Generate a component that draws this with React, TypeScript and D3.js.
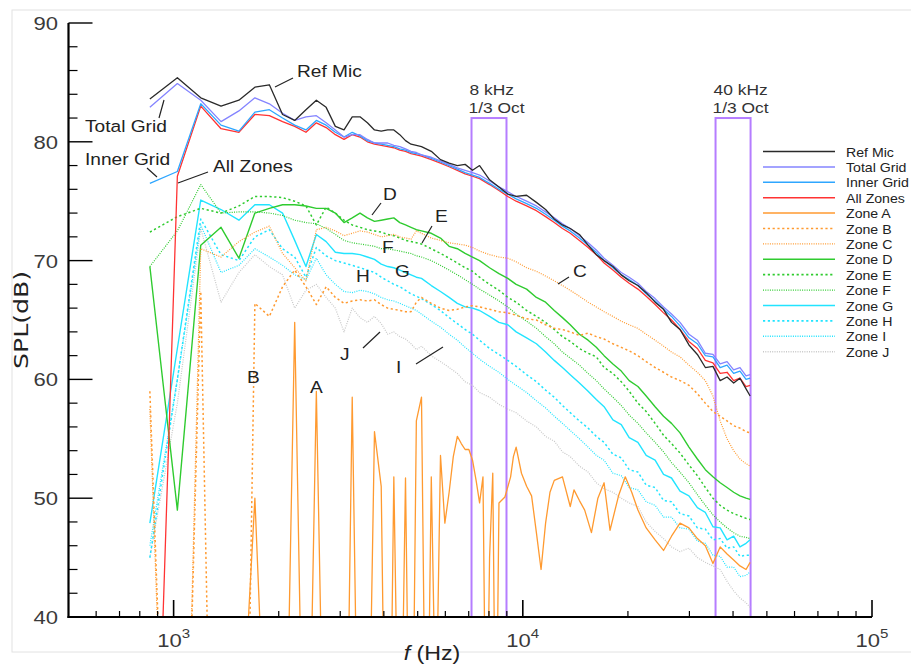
import React from "react";
import * as d3 from "d3";

// Shared frequency grid (Hz)
const freqs = [
  855, 1025, 1196, 1367, 1538, 1709, 1880, 2051, 2222, 2393, 2563, 2734, 2905, 3076, 3247, 3418,
  3589, 3760, 3931, 4102, 4272, 4443, 4614, 4785, 4956, 5127,
  5469, 5811, 6152, 6494, 6836, 7178, 7520, 8032, 8545, 9058, 9570, 10254, 10938, 11621, 12305,
  12988, 13672, 14526, 15381, 16235, 17090, 18115, 19141, 20166, 21362, 22559, 23926, 25293,
  26660, 28198, 29907, 31616, 33325, 35034, 36743, 38452, 40161, 41870, 43579, 44775,
];

const refMic = [
  83.6, 85.4, 83.7, 83.0, 83.5, 84.6, 84.8, 82.3, 81.8, 82.7, 83.5, 82.9, 81.3, 81.0, 82.1, 82.1,
  81.6, 81.0, 80.9, 81.0, 81.0, 80.6, 80.1, 79.8, 79.7, 79.6,
  79.2, 78.5, 78.2, 78.0, 78.1, 77.6, 78.0, 76.8, 76.2, 75.6, 75.4, 75.5, 74.9, 74.3, 73.5,
  73.0, 72.7, 72.2, 71.3, 70.5, 70.0, 69.5, 68.8, 68.3, 67.9, 67.3, 66.5, 65.9,
  64.8, 64.2, 62.9, 62.1, 61.0, 61.1, 59.9, 60.2, 59.7, 60.1, 59.2, 58.6,
];
const totalGrid = [
  82.9, 84.9, 83.5, 81.7, 82.6, 83.7, 83.2, 82.4, 81.8, 82.1, 82.2, 81.6, 81.0, 80.4, 80.6, 80.6,
  80.2, 79.9, 79.9, 79.9, 79.7, 79.6, 79.4, 79.2, 79.1, 78.9,
  78.7, 78.4, 78.1, 77.8, 77.6, 77.4, 77.2, 76.7, 76.2, 75.8, 75.4, 75.0, 74.6, 74.1, 73.6,
  73.1, 72.7, 72.1, 71.5, 70.9, 70.2, 69.6, 69.0, 68.6, 68.1, 67.4, 66.8, 66.1,
  65.5, 64.8, 63.8, 63.3, 62.2, 62.1, 61.3, 61.5, 60.8, 61.0, 60.3, 60.4,
];
const innerGrid = [
  76.5, 77.5, 83.2, 81.4, 80.9, 82.5, 82.7, 82.0, 81.4, 81.0, 81.8, 81.4, 80.8, 80.4, 80.8, 80.5,
  80.1, 79.9, 79.8, 79.7, 79.6, 79.4, 79.3, 79.1, 79.0, 78.9,
  78.6, 78.3, 78.0, 77.7, 77.4, 77.2, 77.0, 76.5, 76.0, 75.6, 75.2, 74.8, 74.4, 73.9, 73.4,
  72.9, 72.5, 71.9, 71.3, 70.7, 70.0, 69.4, 68.8, 68.4, 67.9, 67.2, 66.6, 65.9,
  65.3, 64.5, 63.5, 63.0, 62.0, 61.9, 61.0, 61.2, 60.5, 60.7, 60.0, 60.1,
];
const allZones = [
  6.0, 77.1, 83.0, 81.1, 80.8, 82.3, 82.2, 81.7, 81.3, 80.8, 81.6, 81.2, 80.6, 80.2, 80.6, 80.4,
  80.0, 79.8, 79.7, 79.6, 79.5, 79.3, 79.2, 79.0, 78.9, 78.8,
  78.5, 78.2, 77.9, 77.6, 77.3, 77.1, 76.9, 76.4, 75.9, 75.4, 75.0, 74.6, 74.2, 73.7, 73.2,
  72.7, 72.3, 71.7, 71.1, 70.5, 69.8, 69.2, 68.6, 68.1, 67.6, 67.0, 66.3, 65.6,
  65.0, 64.2, 63.2, 62.6, 61.6, 61.4, 60.5, 60.6, 59.9, 60.1, 59.4, 59.5,
];
const zoneB = [
  59.0, -6, 67.4, -20, -20, 66.4, 65.3, 67.8, 69.2, 67.8, 66.3, 67.8, 66.9, 66.4, 66.6, 66.7,
  66.6, 66.7, 66.3, 66.0, 65.9, 65.8, 65.7, 65.7, 66.5, 66.9,
  66.4, 66.0, 65.8, 65.9, 66.1, 66.2, 66.1, 65.9, 65.7, 65.6, 65.4, 65.1, 65.0, 64.6, 64.3,
  64.2, 64.0, 63.7, 63.9, 63.6, 63.4, 63.0, 62.7, 62.4, 62.0, 61.5, 61.0, 60.6,
  60.2, 59.9, 59.5, 58.8, 58.0, 57.3, 56.9, 56.5, 56.1, 55.9, 55.6, 55.5,
];
const zoneC = [
  57.5, -8, 71.0, 70.3, 71.6, 72.4, 72.9, 70.6, 69.4, 68.3, 72.6, 72.8, 72.5, 72.1, 72.3, 72.5,
  72.4, 72.2, 72.0, 72.1, 72.2, 72.0, 71.9, 71.8, 72.5, 72.3,
  71.9, 71.7, 71.5, 71.4, 71.3, 71.1, 70.8, 70.5, 70.3, 70.2, 69.9, 69.4, 69.1, 68.7, 68.3,
  67.9, 67.5, 67.0, 66.5, 66.1, 65.7, 65.3, 64.9, 64.6, 64.3, 63.8, 63.3, 62.8,
  62.3, 61.9, 61.2, 60.6, 59.9, 58.6, 56.5, 55.0, 54.0, 53.3, 52.9, 52.7,
];
const zoneD = [
  69.5, 49.0, 71.3, 72.8, 70.2, 74.0, 74.4, 74.7, 74.7, 74.6, 74.4, 74.4, 74.0, 73.2, 73.6, 74.0,
  73.6, 73.3, 73.4, 73.5, 73.6, 73.2, 73.0, 72.8, 72.6, 72.5,
  72.3, 71.9, 71.2, 71.0, 70.6, 70.3, 70.0, 69.4, 68.9, 68.5, 68.0, 67.6, 66.9, 66.5, 65.8,
  65.2, 64.6, 63.8, 63.3, 62.7, 62.0, 61.3, 60.7, 59.9, 59.4, 58.6, 57.7, 56.9,
  56.3, 55.5, 54.3, 53.3, 52.4, 51.8, 51.3, 50.9, 50.5, 50.2, 50.0, 49.9,
];
const zoneE = [
  72.4, 73.7, 74.4, 74.0, 74.6, 75.4, 75.4, 75.3, 75.0, 74.6, 73.0, 74.5, 74.0, 73.4, 73.0, 72.8,
  72.6, 72.5, 72.4, 72.2, 72.1, 71.9, 71.7, 71.6, 71.5, 71.4,
  71.0, 70.6, 70.2, 69.8, 69.4, 69.1, 68.6, 68.0, 67.5, 66.9, 66.5, 65.8, 65.3, 64.8, 64.2,
  63.6, 63.2, 62.6, 62.2, 61.9, 61.0, 60.5, 59.8, 59.0, 58.0, 57.3, 56.3, 55.3,
  54.6, 53.8, 52.8, 51.9, 50.9, 50.0, 49.4, 49.0, 48.7, 48.5, 48.3, 48.2,
];
const zoneF = [
  69.5, 72.5, 76.4, 74.0, 74.1, 74.1, 74.0, 73.8, 73.4, 73.2, 73.1, 72.7, 72.2, 71.7, 71.5, 71.4,
  71.3, 71.2, 71.0, 71.0, 70.9, 70.8, 70.7, 70.6, 70.4, 70.3,
  70.0, 69.6, 69.2, 68.8, 68.4, 68.0, 67.6, 67.1, 66.6, 66.1, 65.5, 64.9, 64.3, 63.6, 63.0,
  62.3, 61.8, 61.2, 60.5, 59.9, 59.2, 58.5, 57.8, 57.0, 56.3, 55.5, 54.7, 53.9,
  53.0, 52.2, 51.3, 50.3, 49.4, 48.6, 48.0, 47.5, 47.1, 46.8, 46.7, 46.6,
];
const zoneG = [
  47.9, 62.6, 75.1, 74.3, 73.4, 74.7, 74.7, 74.0, 71.7, 69.5, 72.2, 71.6, 70.7, 70.6, 70.6, 70.5,
  70.3, 70.1, 69.7, 69.5, 69.4, 69.2, 69.0, 68.8, 68.6, 68.5,
  67.9, 67.4, 66.9, 66.4, 66.1, 66.0, 65.8, 65.3, 64.8, 64.6, 64.0, 63.5, 63.0, 62.3, 61.6,
  61.0, 60.4, 59.7, 59.0, 58.3, 57.7, 56.6, 56.2, 55.1, 54.7, 53.6, 53.2, 52.0,
  51.7, 50.6, 50.2, 49.2, 48.8, 47.6, 47.5, 46.5, 46.8, 45.9, 46.2, 46.5,
];
const zoneH = [
  45.0, 60.0, 73.5, 70.5, 70.0, 72.0, 72.6, 71.0, 70.3, 68.6, 71.1, 70.4, 70.0, 69.8, 69.6, 69.4,
  69.2, 69.0, 68.6, 68.3, 68.0, 67.8, 67.5, 67.2, 67.0, 66.8,
  66.3, 65.8, 65.2, 64.7, 64.2, 63.8, 63.3, 62.6, 62.1, 61.6, 61.1, 60.4, 59.8, 59.1, 58.5,
  57.8, 57.2, 56.5, 55.9, 55.2, 54.7, 53.7, 53.4, 52.4, 52.2, 51.1, 50.9, 49.8,
  49.7, 48.7, 48.5, 47.5, 47.4, 46.5, 46.6, 45.8, 45.9, 45.1, 45.2, 45.2,
];
const zoneI = [
  46.0, 60.0, 73.0, 69.0, 69.6, 71.0, 70.3, 69.6, 68.8, 68.4, 70.2, 68.8, 68.0, 67.4, 67.3, 67.5,
  67.4, 67.2, 66.9, 66.7, 66.6, 66.4, 66.2, 66.0, 65.8, 65.5,
  64.9, 64.4, 63.8, 63.3, 62.7, 62.2, 61.7, 61.1, 60.6, 60.0, 59.5, 58.9, 58.2, 57.6, 56.9,
  56.3, 55.7, 55.0, 54.3, 53.6, 53.2, 52.1, 51.9, 50.9, 50.7, 49.7, 49.4, 48.4,
  48.4, 47.5, 47.4, 46.4, 46.2, 45.2, 45.1, 44.2, 44.2, 43.4, 43.5, 43.8,
];
const zoneJ = [
  45.0, 58.0, 72.7, 66.5, 69.0, 70.5, 69.5, 68.8, 66.0, 67.5, 68.0, 66.9, 66.0, 64.0, 66.0, 65.2,
  64.8, 65.3, 64.7, 63.8, 64.0, 63.6, 63.4, 63.0, 62.5, 62.8,
  62.0, 61.5, 61.0, 60.5, 59.8, 59.5, 58.9, 58.5, 57.9, 57.5, 57.2, 56.5, 56.0, 55.2, 54.8,
  53.9, 53.5, 52.7, 52.2, 51.3, 50.8, 50.5, 50.0, 49.6, 49.3, 48.0, 47.2, 46.6,
  45.9, 45.5, 45.8, 45.0, 44.6, 44.3, 44.0, 43.0, 42.2, 41.6, 41.2, 40.8,
];

// Zone A has its own, denser frequency list
const zoneAFreqs = [
  855, 1025, 1196, 1367, 1538, 1709, 1880, 2051, 2222, 2393, 2563, 2734, 2905, 3076, 3247, 3418,
  3589, 3760, 3931, 4102, 4272, 4443, 4614, 4785, 4956, 5127, 5298, 5469, 5640, 5811, 5981, 6152,
  6323, 6494, 6665, 6836, 7007, 7178, 7349, 7520, 7690, 7861, 8032, 8203, 8374, 8545, 8887, 9228,
  9399, 9570, 9912, 10254, 10596, 10937, 11279, 11621, 11963, 12305, 12988, 13672, 14014, 14526,
  15039, 15723, 16406, 17090, 17773, 18799, 19653, 20508, 21362, 22559, 23926, 25293, 26660,
  28198, 29907, 31616, 33325, 35034, 36743, 38452, 40161, 41870, 43579, 44775,
];
const zoneA = [
  20, 25, 30, 20, 25, 50.0, 20, 10, 64.8, 12, 59.0, 15, 20, 10, 58.5, 15,
  20, 55.6, 51.0, 10, 51.8, 20, 51.7, 15, 56.5, 58.5, 20, 51.8, 30, 53.6, 47.9, 50.5,
  53.5, 55.2, 54.6, 54.1, 54.1, 53.2, 51.5, 49.6, 51.8, 25, 45, 52.1, 25, 49.6, 50.1, 51.8,
  53.5, 54.3, 52.1, 51.0, 50.2, 47.1, 44.0, 47.9, 50.5, 51.5, 51.8, 49.3, 50.7, 49.8,
  49.0, 47.1, 50.0, 51.3, 47.3, 50.2, 51.8, 50.5, 49.0, 47.5, 46.5, 45.6, 46.8,
  47.9, 47.5, 46.6, 46.0, 44.5, 45.9, 45.3, 44.8, 44.3, 44.0, 44.6,
];

const seriesNames = [
  "Ref Mic", "Total Grid", "Inner Grid", "All Zones", "Zone A", "Zone B", "Zone C",
  "Zone D", "Zone E", "Zone F", "Zone G", "Zone H", "Zone I", "Zone J",
];

const bandLow = [7130, 35640];
const bandHigh = [8980, 44900];
const bandTop = 82;
const bandLabels = ["8 kHz", "40 kHz"];

const yMajor = [40, 50, 60, 70, 80, 90];
const yMinor = [42, 44, 46, 48, 52, 54, 56, 58, 62, 64, 66, 68, 72, 74, 76, 78, 82, 84, 86, 88];
const xMajor = [1000, 10000, 100000];
const xMinor = [600, 700, 800, 900, 2000, 3000, 4000, 5000, 6000, 7000, 8000, 9000,
  20000, 30000, 40000, 50000, 60000, 70000, 80000, 90000];
const xExp = ["3", "4", "5"];

const ORANGE = "#ff9a30";
const GREEN = "#2fcb2f";
const CYAN = "#22e4ff";
const COARSE = "2.2 2.6";
const FINE = "1 1.3";

const styles: Record<string, { color: string; dash?: string; w?: number }> = {
  "Ref Mic": { color: "#2a2a2a", w: 1.3 },
  "Total Grid": { color: "#8484ff", w: 1.3 },
  "Inner Grid": { color: "#2ea6ff", w: 1.3 },
  "All Zones": { color: "#ff3333", w: 1.3 },
  "Zone A": { color: ORANGE, w: 1.3 },
  "Zone B": { color: ORANGE, dash: COARSE, w: 1.5 },
  "Zone C": { color: ORANGE, dash: FINE, w: 1.2 },
  "Zone D": { color: GREEN, w: 1.4 },
  "Zone E": { color: GREEN, dash: COARSE, w: 1.5 },
  "Zone F": { color: GREEN, dash: FINE, w: 1.2 },
  "Zone G": { color: CYAN, w: 1.4 },
  "Zone H": { color: CYAN, dash: COARSE, w: 1.5 },
  "Zone I": { color: CYAN, dash: FINE, w: 1.2 },
  "Zone J": { color: "#c8c8c8", dash: FINE, w: 1.2 },
};

const seriesData: Record<string, [number[], number[]]> = {
  "Ref Mic": [freqs, refMic],
  "Total Grid": [freqs, totalGrid],
  "Inner Grid": [freqs, innerGrid],
  "All Zones": [freqs, allZones],
  "Zone A": [zoneAFreqs, zoneA],
  "Zone B": [freqs, zoneB],
  "Zone C": [freqs, zoneC],
  "Zone D": [freqs, zoneD],
  "Zone E": [freqs, zoneE],
  "Zone F": [freqs, zoneF],
  "Zone G": [freqs, zoneG],
  "Zone H": [freqs, zoneH],
  "Zone I": [freqs, zoneI],
  "Zone J": [freqs, zoneJ],
};

const FONT = "'Liberation Sans', Arial, sans-serif";

// horizontally stretched text, like the reference's wide lettering
function T(props: {
  x: number; y: number; size: number; s?: number; anchor?: string; fill?: string; children: React.ReactNode;
}) {
  const s = props.s ?? 1.16;
  return (
    <text
      transform={`translate(${props.x},${props.y}) scale(${s},1)`}
      fontSize={props.size}
      textAnchor={props.anchor || "start"}
      fill={props.fill || "#222"}
    >
      {props.children}
    </text>
  );
}

export default function App() {
  const W = 911;
  const H = 665;
  const x = d3.scaleLog().domain([500, 100000]).range([68.5, 872]);
  const y = d3.scaleLinear().domain([40, 90]).range([617, 23]);
  const line = d3
    .line<[number, number]>()
    .x((d) => x(d[0]))
    .y((d) => y(d[1]));

  const drawOrder = [...seriesNames].reverse();
  const axisX = x(500);
  const axisY = y(40);

  const annot = [
    { t: "Ref Mic", x: 297, y: 77, l: [275, 87, 293, 78] },
    { t: "Total Grid", x: 85, y: 132, l: [164, 100, 159, 118] },
    { t: "Inner Grid", x: 85, y: 165, l: [147, 168, 157, 177] },
    { t: "All Zones", x: 213, y: 172, l: [178, 183, 208, 172] },
    { t: "D", x: 383, y: 200, l: [372, 215, 381, 203] },
    { t: "E", x: 435, y: 222, l: [422, 243, 432, 226] },
    { t: "F", x: 382, y: 253 },
    { t: "G", x: 395, y: 277 },
    { t: "H", x: 356, y: 282 },
    { t: "J", x: 340, y: 360, l: [363, 348, 380, 332] },
    { t: "I", x: 396, y: 373, l: [416, 364, 443, 347] },
    { t: "B", x: 247, y: 383 },
    { t: "A", x: 310, y: 393 },
    { t: "C", x: 573, y: 277, l: [558, 284, 569, 277] },
  ];

  return (
    <svg
      width={W}
      height={H}
      viewBox={`0 0 ${W} ${H}`}
      style={{ position: "absolute", left: 0, top: 0, background: "#fff" }}
      fontFamily={FONT}
    >
      <rect x={0} y={0} width={W} height={H} fill="#fff" />
      <rect x={12} y={10} width={W + 10} height={642} fill="none" stroke="#e2e2e2" strokeWidth={1} />
      <defs>
        <clipPath id="plotClip">
          <rect x={axisX + 1} y={y(90) - 2} width={x(100000) - axisX} height={axisY - y(90) + 1} />
        </clipPath>
      </defs>

      {/* 1/3 octave bands */}
      {bandLow.map((lo, i) => (
        <g key={"band" + i}>
          <rect
            x={x(lo)}
            y={y(bandTop)}
            width={x(bandHigh[i]) - x(lo)}
            height={y(40) - y(bandTop)}
            fill="none"
            stroke="#b57dff"
            strokeWidth={2}
          />
          <T x={x(lo) - 2} y={95} size={15} fill="#333">{bandLabels[i]}</T>
          <T x={x(lo) - 3} y={113} size={15} fill="#333">1/3 Oct</T>
        </g>
      ))}

      {/* series */}
      <g clipPath="url(#plotClip)">
        {drawOrder.map((name) => {
          const [fs, vs] = seriesData[name];
          const pts = fs.map((f, i) => [f, vs[i]] as [number, number]);
          const st = styles[name];
          return (
            <path
              key={name}
              d={line(pts) || ""}
              fill="none"
              stroke={st.color}
              strokeWidth={st.w || 1.3}
              strokeDasharray={st.dash}
              strokeLinejoin="round"
            />
          );
        })}
      </g>

      {/* axes */}
      <line x1={axisX} y1={y(90)} x2={axisX} y2={axisY + 1} stroke="#000" strokeWidth={2.2} />
      <line x1={axisX - 1} y1={axisY} x2={x(100000)} y2={axisY} stroke="#000" strokeWidth={2.2} />
      {yMajor.map((v) => (
        <g key={"ym" + v}>
          {v !== 40 && <line x1={axisX} x2={axisX + 24} y1={y(v)} y2={y(v)} stroke="#000" strokeWidth={1.4} />}
          <T x={58} y={y(v) + 7} size={19} anchor="end" fill="#3a3a3a">{v}</T>
        </g>
      ))}
      {yMinor.map((v) => (
        <line key={"yn" + v} x1={axisX} x2={axisX + 9} y1={y(v)} y2={y(v)} stroke="#000" strokeWidth={1.2} />
      ))}
      {xMajor.map((v, i) => (
        <g key={"xm" + v}>
          <line x1={x(v)} x2={x(v)} y1={axisY} y2={axisY - 17} stroke="#000" strokeWidth={1.6} />
          <T x={x(v)} y={647} size={19} anchor="middle" fill="#3a3a3a">
            <tspan>10</tspan>
            <tspan dy={-9} fontSize={13}>{xExp[i]}</tspan>
          </T>
        </g>
      ))}
      {xMinor.map((v) => (
        <line key={"xn" + v} x1={x(v)} x2={x(v)} y1={axisY} y2={axisY - 6} stroke="#000" strokeWidth={1.2} />
      ))}

      {/* axis titles */}
      <text
        transform={`translate(28, 320) rotate(-90)`}
        textAnchor="middle"
        fontSize={20}
        textLength={98}
        lengthAdjust="spacingAndGlyphs"
        fontFamily="'DejaVu Sans Condensed', 'Liberation Sans Narrow', 'Liberation Sans', sans-serif"
        fill="#222"
      >
        SPL(dB)
      </text>
      <T x={432} y={660} size={20} anchor="middle" fill="#222">
        <tspan fontStyle="italic">f</tspan>
        <tspan> (Hz)</tspan>
      </T>

      {/* annotations */}
      {annot.map((a) => (
        <g key={"an" + a.t}>
          <T x={a.x} y={a.y} size={16.5}>{a.t}</T>
          {a.l && <line x1={a.l[0]} y1={a.l[1]} x2={a.l[2]} y2={a.l[3]} stroke="#222" strokeWidth={1.2} />}
        </g>
      ))}

      {/* legend */}
      {seriesNames.map((name, i) => {
        const st = styles[name];
        const ly = 151.5 + i * 15.4;
        return (
          <g key={"lg" + name}>
            <line
              x1={763}
              x2={835}
              y1={ly}
              y2={ly}
              stroke={st.color}
              strokeWidth={(st.w || 1.3) + 0.2}
              strokeDasharray={st.dash}
            />
            <T x={846} y={ly + 5} size={13.6} s={1.04}>{name}</T>
          </g>
        );
      })}
    </svg>
  );
}
